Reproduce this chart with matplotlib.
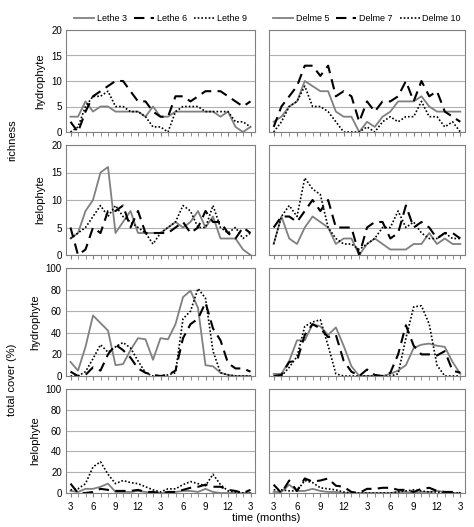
import matplotlib
matplotlib.use("Agg")
import matplotlib.pyplot as plt
import numpy as np

months = list(range(25))
tick_labels = ["3","6","9","12","3","6","9","12","3"]

L_names = ["Lethe 3", "Lethe 6", "Lethe 9"]
D_names = ["Delme 5", "Delme 7", "Delme 10"]

L_hyd_rich = [
 [3,3,6,4,5,5,4,4,4,4,3,5,3,3,4,4,4,4,4,4,3,4,1,0,1],
 [2,0,4,7,8,9,10,10,8,6,6,4,3,3,7,7,6,7,8,8,8,7,6,5,6],
 [0,1,5,7,7,8,5,5,4,4,3,1,1,0,4,5,5,5,4,4,4,4,2,2,1]]
D_hyd_rich = [
 [2,3,5,6,10,9,8,8,4,3,3,0,2,1,3,4,6,6,6,7,5,4,4,4,4],
 [1,5,7,9,13,13,11,13,7,8,7,2,6,4,6,6,7,10,6,10,7,8,4,3,2],
 [0,2,5,6,9,5,5,4,2,0,0,0,1,0,2,3,2,3,3,6,3,3,1,2,0]]
L_hel_rich = [
 [3,4,8,10,15,16,4,6,8,4,4,4,4,5,6,5,6,8,5,7,3,3,3,1,0],
 [5,0,1,5,4,8,8,9,5,8,4,4,4,4,5,6,4,5,8,6,6,4,3,5,4],
 [3,4,5,7,9,7,9,7,6,5,4,2,4,5,6,9,8,5,5,9,5,4,5,3,4]]
D_hel_rich = [
 [2,7,3,2,5,7,6,5,2,3,3,0,2,3,2,1,1,1,2,2,4,2,3,2,2],
 [5,7,7,6,8,10,8,10,5,5,5,0,5,6,6,3,4,9,5,6,5,3,4,4,3],
 [2,7,9,7,14,12,11,5,3,2,2,1,2,3,5,5,8,5,6,4,3,3,4,3,3]]
L_hyd_cov = [
 [13,5,27,56,49,42,10,11,24,35,34,15,35,34,48,73,79,63,10,9,3,1,0,0,0],
 [4,0,1,8,5,20,29,24,17,7,3,1,0,1,5,35,48,53,68,44,33,12,7,7,4],
 [0,0,4,16,29,22,27,31,26,14,3,0,0,1,3,53,60,81,72,23,3,1,0,0,0]]
D_hyd_cov = [
 [2,2,14,33,33,48,46,38,45,28,9,0,0,0,0,2,5,10,26,29,30,28,27,13,2],
 [0,1,13,14,38,48,44,36,38,14,4,0,6,1,0,3,20,47,28,20,20,19,23,5,3],
 [0,0,8,18,46,50,52,28,2,0,0,0,0,0,0,0,2,35,64,65,48,10,0,0,0]]
L_hel_cov = [
 [2,1,4,4,6,9,1,1,1,2,1,0,0,0,1,2,2,1,4,1,0,0,0,0,0],
 [9,0,0,1,4,3,2,2,2,3,1,1,0,1,1,3,5,6,8,6,6,3,2,0,3],
 [3,4,9,25,30,18,9,12,10,9,6,3,1,4,4,8,11,9,7,18,8,2,1,0,0]]
D_hel_cov = [
 [1,1,8,2,2,4,2,1,1,0,0,0,0,0,0,0,1,1,0,1,1,2,1,0,0],
 [8,0,12,2,14,11,12,14,7,6,1,0,4,4,5,5,3,3,1,4,5,2,1,1,0],
 [3,3,2,2,12,10,5,4,3,1,0,0,0,0,0,0,1,2,3,2,1,1,0,0,0]]

styles = [dict(color="#808080", ls="-", lw=1.3),
          dict(color="black", ls=(0, (5, 3)), lw=1.5),
          dict(color="black", ls=(0, (1, 1.2)), lw=1.2)]

plt.rcParams['font.family'] = ['Liberation Sans', 'DejaVu Sans']
fig = plt.figure(figsize=(4.74, 5.27), dpi=100)
W, H = 474, 527
cols = [(66, 255), (269, 465)]
rows = [(30, 132), (145, 255), (268, 376), (389, 493)]
data = [(L_hyd_rich, D_hyd_rich, 20, 5, "hydrophyte"),
        (L_hel_rich, D_hel_rich, 20, 5, "helophyte"),
        (L_hyd_cov, D_hyd_cov, 100, 20, "hydrophyte"),
        (L_hel_cov, D_hel_cov, 100, 20, "helophyte")]
for r, (y0, y1) in enumerate(rows):
    Ld, Dd, ymax, step, lab = data[r]
    for c, (x0, x1) in enumerate(cols):
        ax = fig.add_axes([x0 / W, 1 - y1 / H, (x1 - x0) / W, (y1 - y0) / H])
        series = Ld if c == 0 else Dd
        names = L_names if c == 0 else D_names
        for s, st, nm in zip(series, styles, names):
            ax.plot(months, s, label=nm, **st)
        ax.set_ylim(0, ymax)
        ax.set_xlim(-0.6, 24.6)
        ax.set_yticks(np.arange(0, ymax + 1, step))
        ax.yaxis.grid(True, color="#b0b0b0", lw=0.8)
        ax.set_axisbelow(True)
        ax.set_xticks(range(0, 25, 3))
        ax.set_xticks(range(0, 25), minor=True)
        ax.tick_params(axis="x", which="both", length=3, color="#808080")
        ax.tick_params(axis="y", length=0, labelsize=7, pad=3)
        if r == 3:
            ax.set_xticklabels(tick_labels, fontsize=7)
        else:
            ax.set_xticklabels([])
        if c == 1:
            ax.set_yticklabels([])
        else:
            ax.set_ylabel(lab, fontsize=8)
        for sp in ax.spines.values():
            sp.set_color("#808080")
        if r == 0:
            ax.legend(loc="lower center", bbox_to_anchor=(0.5, 1.06), ncol=3,
                      frameon=False, fontsize=6.5, handlelength=2.2,
                      columnspacing=0.8, handletextpad=0.3,
                      borderaxespad=0.0, borderpad=0.1)

fig.text(12 / W, 1 - 140 / H, "richness", rotation=90, fontsize=8, ha="center", va="center")
fig.text(12 / W, 1 - 380 / H, "total cover (%)", rotation=90, fontsize=8, ha="center", va="center")
fig.text(266 / W, 1 - 518 / H, "time (months)", fontsize=8, ha="center", va="center")
fig.savefig("out.png", dpi=100)
